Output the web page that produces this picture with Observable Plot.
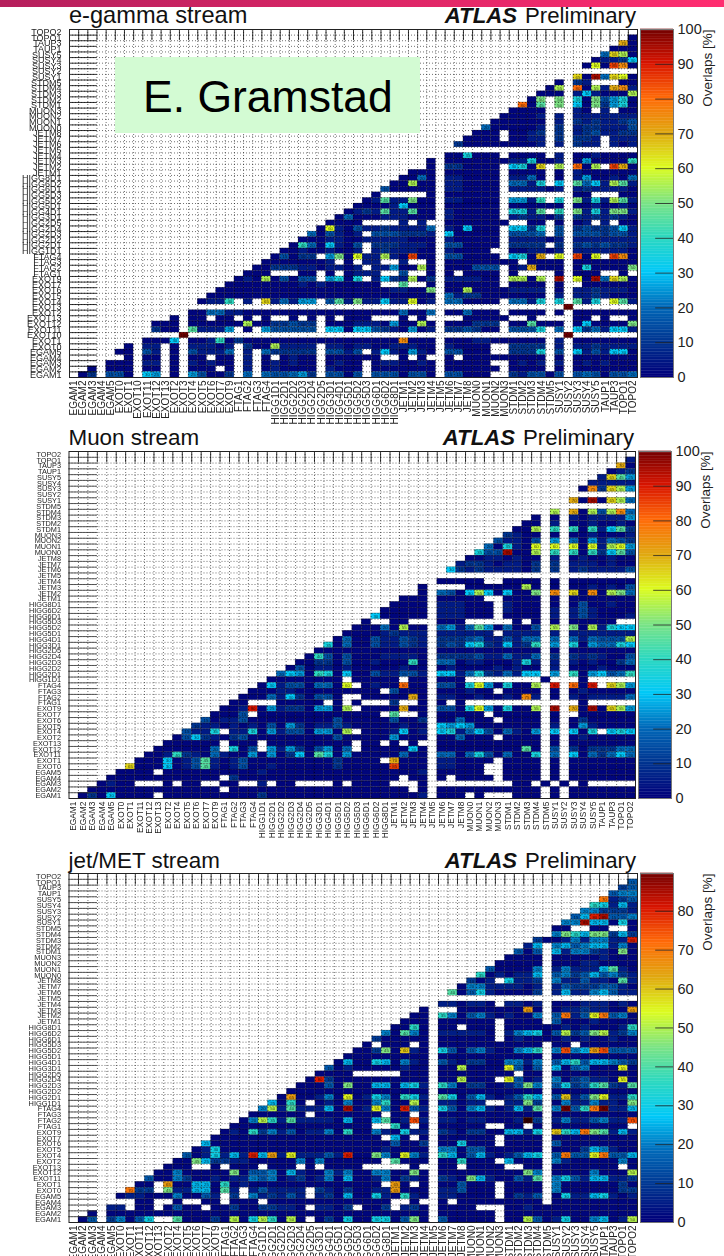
<!DOCTYPE html>
<html><head><meta charset="utf-8">
<script src="https://cdn.jsdelivr.net/npm/d3@7"></script>
<script src="https://cdn.jsdelivr.net/npm/@observablehq/plot@0.6"></script>
<style>
html,body{margin:0;padding:0;background:#fff;width:724px;height:1256px;overflow:hidden;font-family:"Liberation Sans",Arial,sans-serif}
.abs{position:absolute;line-height:1;white-space:nowrap;color:#111}
svg{display:block;overflow:visible}
</style></head><body>
<div id="page" style="position:relative;width:724px;height:1256px;overflow:hidden"></div>
<script>
// category lists
const egam = ["EGAM1","EGAM2","EGAM3","EGAM4","EGAM5"];
const exotFull = ["EXOT0","EXOT1","EXOT10","EXOT11","EXOT12","EXOT13","EXOT2","EXOT3","EXOT4","EXOT5","EXOT6","EXOT7","EXOT9"];
const exotShort = ["EXOT0","EXOT1","EXOT11","EXOT12","EXOT13","EXOT2","EXOT4","EXOT5","EXOT6","EXOT7","EXOT9"];
const rest = ["FTAG1","FTAG2","FTAG3","FTAG4","HIGG1D1","HIGG2D1","HIGG2D2","HIGG2D3","HIGG2D4","HIGG2D5","HIGG3D1","HIGG4D1","HIGG5D1","HIGG5D2","HIGG5D3","HIGG6D1","HIGG6D2","HIGG8D1","JETM1","JETM2","JETM3","JETM4","JETM5","JETM6","JETM7","JETM8","MUON0","MUON1","MUON2","MUON3","STDM1","STDM2","STDM3","STDM4","STDM5","SUSY1","SUSY2","SUSY3","SUSY4","SUSY5","TAUP1","TAUP3","TOPO1","TOPO2"];
const cats62 = [...egam,...exotFull,...rest];
const cats60 = [...egam,...exotShort,...rest];

// overlap per cell, top row first, left to right.
// "." = no entry; otherwise base-36 digit = overlap / 5 (0 = below 5%)
const egammaRows = [
"",
".......... .......... .......... .......... .......... .......... .0",
".......... .......... .......... .......... .......... .......... e0",
".......... .......... .......... .......... .......... .........0 00",
".......... .......... .......... .......... .......... ........4d b0",
".......... .......... .......... .......... .......... .......011 26",
".......... .......... .......... .......... .......... ......0c0h f0",
"",
".......... .......... .......... .......... .......... .....d0j4d c0",
".......... .......... .......... .......... .......... ...0.21... 00",
".......... .......... .......... .......... .......... ..0b.g0b1e f1",
".......... .......... .......... .......... .......... .000.16100 0b",
".......... .......... .......... .......... .......... 0a.a.70a35 70",
".......... .......... .......... .......... .........g 09.a.60a25 70",
".......... .......... .......... .......... ........00 00...10.1. 00",
".......... .......... .......... .......... .......000 01.1.11111 11",
".......... .......... .......... .......... ......0000 00.1.21211 23",
".......... .......... .......... .......... .....40000 01.2.12211 13",
".......... .......... .......... .......... ....000.00 12.2.12311 22",
".......... .......... .......... .......... ...0000.00 11.2.221.1 11",
".......... .......... .......... .......... ..20000000 01.1.211.1 01",
"",
".......... .......... .......... .......... .007000.00 00.1.00100 00",
".......... .......... .......... .........0 .000000011 7001.05000 08",
".......... .......... .......... .........0 .220000.67 0d.b.g0b.h e0",
".......... .......... .......... .......000 .000000.00 00.0.10000 00",
".......... .......... .......... ......0040 .110000.11 40.0.15001 04",
".......... .......... .......... .....00b00 .110000.44 17.6.9461b 91",
".......... .......... .......... ....300000 .110000.11 1101.12111 10",
".......... .......... .......... ...0.....0 .000000... .....00... 00",
".......... .......... .......... ..01911a00 .110000.55 18.7.a171b 91",
".......... .......... .......... .000016000 .000000.00 0000.00100 10",
".......... .......... .......... 0121911900 .100000.77 19.8.a171a a1",
".......... .......... .........0 4000111000 .100000.12 1102.21212 10",
".......... .......... ........00 00....1.1. .0000000.. 00.0.01.1. 00",
".......... .......... .......0c1 0311211114 .106000.66 27.3.23223 61",
".......... .......... ......4031 01.3332221 .600000.33 34.3.33323 31",
".......... .......... .....00011 0011111000 .100000.11 1101.11111 11",
".......... .......... ....084061 03.2221110 .330000.22 22.2.23232 21",
".......... .......... ...0010010 01.1211100 .10000..00 1101.11111 10",
".......... .......... ..03022.5a 0c11b10h00 .330000.67 0e.c.h0c.h f0",
".......... .......... .00000001. 0.11..1..0 .00000000. 0000.00000 00",
".......... .......... 0022211011 01.11500b0 .000333.01 e000.07000 0a",
".......... .........0 00...00.0. 0111..3..0 .0.0000.0. ...0.000.. 0.",
".......... ........01 0b03033.57 07.1621b02 .111100.bb 0b.j.c0j4d b0",
".......... .......000 0000010100 0000..9..0 .000000.00 00.0..0000 00",
".......... ......0000 0000000000 000001100a .00b000011 11.0.11211 10",
".......... .....00000 0000000000 0000000000 .412200000 00.1.11210 00",
".......... ....0118.1 .d14155.39 1a11611c01 .440000.44 17.7.917.c 91",
".......... .......... .......... .......... .......... ....k..... ..",
".......... ...0044110 0000000000 0000004004 .004000.00 00.0.00000 00",
".......... .0.00.00.0 .0..0.0.0. 000...0.0. ...00000.. 0....00.0. .0",
".........0 00.000000b 0022322.00 01110500b0 .000222.00 9000.06000 0a",
".........2 00.91115.0 .533333.66 0663210501 .223200.33 37.4.62416 61",
".......... ..k....... .......... .......... .......... ....k..... ..",
"........00 06.0018020 0000000000 000000f000 .000110000 00.1.00000 00",
"......0.11 .0.11101.2 00b1111.11 0110011100 .10000..22 22.1.11211 11",
".....00.31 .0.31114.1 .422222.33 13.1610510 .33000..22 27.3.61316 60",
"......0.00 .0.00.00.1 .0.0100.00 0000..0.0. .0.0000000 00.0.00000 00",
"....000.11 .0.10100.1 .010100.01 00.0110010 .00000..01 01.1.01010 00",
"..0.000.00 .0.000.0.1 .010000.10 00.0000000 .000000.00 00.0.00000 00",
".02.330.65 .0.53002.4 .433452.33 03.3330330 .33000..21 3303.34303 34"
];
const muonRows = [
"",
".......... .......... .......... .......... .......... .........1",
".......... .......... .......... .......... .......... ........e0",
".......... .......... .......... .......... .......... .......012",
".......... .......... .......... .......... .......... ......1d95",
".......... .......... .......... .......... .......... .....11111",
".......... .......... .......... .......... .......... ....0f2db5",
"",
".......... .......... .......... .......... .......... ...e0j0db4",
"",
".......... .......... .......... .......... .......... .b.e0b3bf4",
".......... .......... .......... .......... .........0 .0.1011115",
".......... .......... .......... .......... ........00 .1.0010010",
".......... .......... .......... .......... .......00b .8.8081692",
".......... .......... .......... .......... ......2100 .0.0010001",
".......... .......... .......... .......... .....31103 .5.4051432",
".......... .......... .......... .......... ....40710c .c.c0c1bc5",
".......... .......... .......... .......... ...733j00b .8.8082693",
".......... .......... .......... .......... ..00110100 .1.0100100",
".......... .......... .......... .......... .122101102 .2.1110100",
".......... .......... .......... .......... 6212111102 .2.1211113",
"",
".......... .......... .......... .........0 0000..0000 .0.0000000",
".......... .......... .......... .......0.. ..000000b0 .0.0010103",
".......... .......... .......... .......0.4 306b60600a .f.d0f0ba4",
".......... .......... .......... .....000.0 0000..0000 .0.0000000",
".......... .......... .......... ....0000.1 11000.1000 .0.0300100",
".......... .......... .......... ...00000.1 11000.1000 .1.1310000",
".......... .......... .......... ..600000.1 11000.0000 .1.1310001",
".......... .......... .......... .0..00...0 00.....0.0 .0.00000..",
".......... .......... .......... 00040b00.4 5149504003 .b.a0b1766",
".......... .......... .........0 00012111.1 11111.1111 .1.1111111",
".......... .......... ........04 00311321.2 2234113144 .4.414333b",
".......... .......... .......704 00311321.2 3267216128 .5.7054476",
".......... .......... ......0000 00000000.0 0000000000 .0.0000000",
".......... .......... .....08303 00011110.2 2223114114 .2.2121003",
".......... .......... ....002203 00100080.4 4011000171 .1.1010024",
".......... .......... ...0301101 00000100.0 1000010100 .1.0001000",
".......... .......... ..46508706 00311331.6 6147214166 .5.8056348",
".......... .......... .00000000. 00000.00.0 00........ 0...0.....",
".......... .......... 061330440c .0100g00.3 307c50700b .i.g0i.db5",
".......... .........0 0011000000 000.3000.0 00100.0000 .0.0100000",
".......... ........00 041620330. .00000e0.1 10010010f1 .0.1011114",
".......... .......00. ..00000.0. 0...2..0.0 .0........ ....0.....",
".......... ......001i 051220550b .0000e00.3 307c50700b .j.e0j0db5",
".......... .....0003. 0000000000 000.9..0.0 0000.00000 .0..000000",
".......... ....301130 0000000030 00003002.0 04000.0000 .0.0200000",
".......... ...2110101 0305201131 00000100.6 5650000000 .1.0510000",
".......... ..3117.117 051330550b .0001601.6 7146304105 .6.607.676",
".......... .036210230 0000000030 00005000.0 04000.0000 .0.0100000",
".......... 000000.000 .000000000 .00.0.0..0 0000000000 .0.0000000",
".........0 000004.703 .515203504 .0000060.0 0000000090 .3.2022244",
"........00 1821041005 0502609705 00000400.4 4047304007 .4.6042464",
".......000 6013910130 0000000020 000.e000.1 10000.0000 .0.0000000",
"......d000 6013910130 0100000020 0000h000.1 1000..0000 .0.0000000",
".....0000. 0000000000 1000000000 00000001.0 0000..0000 .0.0000000",
"....000000 000000.200 0000000000 00000.00.0 .0000.0000 .0.0000000",
"...0100... 0.00..00.. 1.00....0. 0000...0.. .......00. 0.0.0.....",
"..00000000 000000.000 0000000000 000000.0.0 0000000000 .0.0000000",
".02060000. 0000000000 2000000000 00000001.0 00.0...000 .0.0000000"
];
const jetRows = [
"",
".......... .......... .......... .......... .......... .........3",
".......... .......... .......... .......... .......... ........23",
".......... .......... .......... .......... .......... .......344",
".......... .......... .......... .......... .......... ......e123",
".......... .......... .......... .......... .......... .....76151",
".......... .......... .......... .......... .......... ....442221",
".......... .......... .......... .......... .......... ...35gh334",
".......... .......... .......... .......... .......... ..44h55060",
".......... .......... .......... .......... .......... .00..00..0",
".......... .......... .......... .......... .......... .497599252",
".......... .......... .......... .......... .........2 001414411g",
".......... .......... .......... .......... ........15 .453455140",
".......... .......... .......... .......... .......303 .514421090",
".......... .......... .......... .......... ......0000 .000001000",
".......... .......... .......... .......... .....00000 .000110000",
".......... .......... .......... .......... ....300004 .141115810",
".......... .......... .......... .......... ...7010115 .342353421",
".......... .......... .......... .......... ..201.6112 .411311081",
".......... .......... .......... .......... .044111101 .132223310",
".......... .......... .......... .......... 8036100002 .151145311",
"",
".......... .......... .......... .........1 10110.1101 .000111010",
".......... .......... .......... .......0.. .0000000d0 .01121100d",
".......... .......... .......... ......00.7 4034101004 .3e13be340",
".......... .......... .......... .....000.0 00000.0000 .300010000",
".......... .......... .......... ....0070.0 0.000.0000 0010100017",
".......... .......... .......... ...40840.1 11110.1456 03a239a124",
".......... .......... .......... ..200000.0 00000.0100 0010100100",
".......... .......... .......... .0.000.0.0 0000000000 .00.000000",
".......... .......... .......... 00290c10.6 3034100457 .4f45df333",
".......... .......... .........0 00000000.0 0000000000 .000000000",
".......... .......... ........05 00650410.3 1022004414 .357355432",
".......... .......... .......301 00000100.0 0a0000b303 .5034000b0",
".......... .......... ......0000 .....000.0 0000000.00 .000000000",
".......... .......... .....0g200 00000000.0 0a000.b301 .4023110b0",
".......... .......... ....000309 00550561.7 4022001394 .362378218",
".......... .......... ...0000000 00000000.0 0000000000 .000000000",
".......... .......... ..0d00140b 01640761.8 6035101375 .3c139b117",
".......... .......... .5070.0104 004700a0.1 1011..1192 .041141109",
".......... .......... 4a1811150h 01b40g31.6 3045101518 .4i37ei115",
".......... .........0 00000.0000 000.00.0.0 0000000000 .000000000",
".......... ........04 a718111105 005801f1.1 10110001j2 .14113411f",
".......... .......000 0000000000 00..70.0.0 0000..00.0 .00000000.",
".......... ......0107 2413011407 00410611.2 1022005516 .c75e98151",
".......... .....00000 0000000000 000.50.0.0 00000.0000 .000000000",
".......... ....500000 0000000000 00003002.0 06000.0000 .300000000",
".......... ...0160000 0000000000 00010000.4 4033000000 .000254100",
".......... ..3016151g 5d1b11131g 00940b41.7 5035101356 .3e33be335",
".......... .009522110 0000404000 000.8000.0 07000.5000 .410000040",
".......... 000..0.000 .000.0.000 0.....0..0 0.0000..00 .0000000.0",
".........0 0400000903 3405100414 00440090.0 0000000094 .00004000a",
"........30 0420010114 3401201405 00140210.2 1095100318 .463155112",
".......00. d005507010 0000000000 000.d0.0.0 03000.0000 .400000020",
"......e22. 91155081.1 31111.2102 0011d000.1 13000.0000 .400000022",
".....01100 040031.2.4 12131.1205 00610710.1 10000.0213 .061156101",
".......00. .0..00.000 .000000000 0000..0..0 .000000000 .000000000",
"....11.00. 0300.00200 22110.1102 .002.120.0 000...0010 0000000000",
"..0.000000 0000000000 0000000000 00000000.0 00000.0000 0000000000",
".03.24036. .800020a06 a70a0.0206 00660390.3 00000.00a3 016004501a"
];

// colour stops (equal steps, bottom to top)
const barStops = ["#00007a","#003490","#0068b8","#00c8f8","#2cd8c0","#7ce484","#dcfc20","#e0a810","#ff6a08","#d81400","#700000"];
const barInterpolator = d3.piecewise(d3.interpolateRgb, barStops);
const ticks100 = [0,10,20,30,40,50,60,70,80,90,100];
const ticks90 = [0,10,20,30,40,50,60,70,80];

const panels = [
 {title:"e-gamma stream",titleSize:23.6,base:23.5,tRight:636,rows:egammaRows,cats:cats62,left:69,right:637,top:29,bottom:377,barLeft:640,barRight:673,max:100,ticks:ticks100,ySize:9,xSize:10,tickGrey:"#000"},
 {title:"Muon stream",titleSize:22.4,base:446,tRight:634,rows:muonRows,cats:cats60,left:68.5,right:635,top:451,bottom:798,barLeft:638,barRight:671,max:100,ticks:ticks100,ySize:7.3,xSize:8.4,tickGrey:"#333"},
 {title:"jet/MET stream",titleSize:22.4,base:869,tRight:636,rows:jetRows,cats:cats60,left:68.5,right:637,top:873,bottom:1222,barLeft:640,barRight:673,max:89.7,ticks:ticks90,ySize:7.4,xSize:10,tickGrey:"#333"}
];

const page = document.getElementById("page");
const addDiv = (css, text, html) => {
  const d = document.createElement("div");
  d.className = "abs"; d.style.cssText = css;
  if (html) d.innerHTML = html; else d.textContent = text;
  page.appendChild(d); return d;
};

addDiv("left:0;top:0;width:724px;height:7px;background:linear-gradient(90deg,#b51f5c,#ff2d70)", "");

for (const p of panels) {
  const n = p.cats.length;
  const rowsTop = [...p.cats].reverse();
  const cells = [];
  p.rows.forEach((s, i) => {
    const row = s.replace(/ /g, "");
    for (let c = 0; c < n && c < row.length; c++) {
      if (row[c] === ".") continue;
      const v = parseInt(row[c], 36) * 5 || 1;
      cells.push({x: p.cats[c], y: rowsTop[i], v});
    }
  });
  const W = p.right - p.left, H = p.bottom - p.top;
  const w = W / n, h = H / n;
  const boundary = p.cats.slice(1);
  const boundaryY = rowsTop.slice(0, -1);
  const colorOpts = {type:"linear", domain:[0,p.max], interpolate:barInterpolator};

  const chart = Plot.plot({
    width:724, height:H+46, marginLeft:p.left, marginRight:724-p.right, marginTop:0, marginBottom:46,
    style:{background:"transparent",fontFamily:'"Liberation Sans",Arial,sans-serif',color:"#222"},
    x:{type:"band",domain:p.cats,padding:0,round:false,axis:null,label:null},
    y:{type:"band",domain:rowsTop,padding:0,round:false,axis:null,label:null},
    color:colorOpts,
    marks:[
      Plot.cell(cells,{x:"x",y:"y",fill:"v",stroke:"#000",strokeOpacity:.3,strokeWidth:.5}),
      Plot.text(cells.filter(d=>d.v>=10),{x:"x",y:"y",text:"v",fontSize:4.4,fill:"#000",fillOpacity:.7}),
      Plot.ruleX(boundary,{x:d=>d,dx:-w/2,stroke:"#000",strokeWidth:.7,strokeDasharray:"1,2",strokeOpacity:.8}),
      Plot.ruleY(boundaryY,{y:d=>d,dy:h/2,stroke:"#000",strokeWidth:.7,strokeDasharray:"1,2",strokeOpacity:.8}),
      Plot.ruleX(boundary,{x:d=>d,dx:-w/2,y1:()=>rowsTop[0],y2:()=>rowsTop[1],stroke:"#000",strokeWidth:.8}),
      Plot.ruleY(boundaryY,{y:d=>d,dy:h/2,x1:()=>p.cats[0],x2:()=>p.cats[2],stroke:p.tickGrey,strokeWidth:.8}),
      Plot.frame({stroke:"#222",strokeWidth:1}),
      Plot.axisX({tickSize:0,tickRotate:-90,tickPadding:3,fontSize:p.xSize,label:null,anchor:"bottom"}),
      Plot.axisY({tickSize:0,tickPadding:8,fontSize:p.ySize,label:null,anchor:"left"})
    ]
  });
  chart.style.position = "absolute";
  chart.style.left = "0px";
  chart.style.top = p.top + "px";
  chart.style.filter = "blur(.3px)";
  page.appendChild(chart);

  const barW = p.barRight - p.barLeft;
  const barStep = p.max / 220;
  const barValues = d3.range(0, p.max, barStep);
  const bar = Plot.plot({
    width:84, height:H+20, marginLeft:0, marginRight:84-barW, marginTop:10, marginBottom:10,
    style:{background:"transparent",fontFamily:'"Liberation Sans",Arial,sans-serif',color:"#222"},
    x:{domain:[0,1],axis:null},
    y:{domain:[0,p.max],axis:null},
    color:colorOpts,
    marks:[
      Plot.rect(barValues,{x1:0,x2:1,y1:d=>d,y2:d=>d+barStep*1.2,fill:d=>d}),
      Plot.ruleY(p.ticks,{y:d=>d,x1:.46,x2:1,stroke:"#222",strokeOpacity:.8,strokeWidth:1}),
      Plot.frame({stroke:"#777",strokeWidth:1}),
      Plot.text(p.ticks,{x:1,y:d=>d,text:d=>String(d),textAnchor:"start",dx:4,fontSize:14.5,fill:"#222"}),
      Plot.text(["Overlaps [%]"],{frameAnchor:"top-right",rotate:-90,textAnchor:"end",dx:29,fontSize:13.5,fill:"#222"})
    ]
  });
  bar.style.position = "absolute";
  bar.style.left = p.barLeft + "px";
  bar.style.top = (p.top-10) + "px";
  page.appendChild(bar);

  addDiv(`left:${p.left}px;top:${p.base-.8465*p.titleSize}px;font-size:${p.titleSize}px`, p.title);
  addDiv(`right:${724-p.tRight}px;top:${p.base-.8465*22.2}px;font-size:22.2px`, "", '<b style="font-style:italic;margin-right:8px">ATLAS</b>Preliminary');
}

addDiv("left:115px;top:57px;width:305px;height:76px;background:#d3fbd3", "");
addDiv("left:143px;top:75px;font-size:44.5px;color:#000", "E. Gramstad");
</script>
</body></html>
